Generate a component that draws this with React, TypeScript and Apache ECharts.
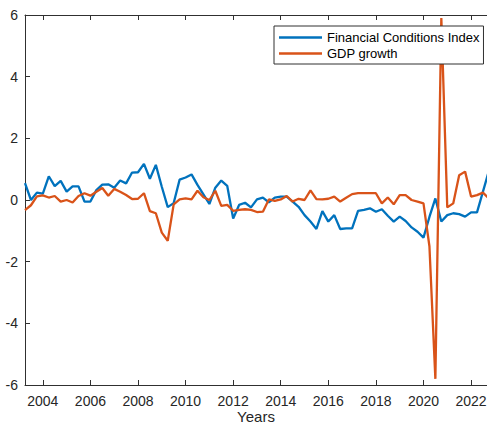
import React, { useEffect, useRef } from "react";
import * as echarts from "echarts";

// Quarterly observations, first quarter ending 2003.25
const firstQuarter = 2003.25;
const quarterStep = 0.25;

const fciValues = [
  0.55, 0.0, 0.24, 0.21,
  0.77, 0.45, 0.62, 0.27,
  0.44, 0.44, -0.05, -0.05,
  0.32, 0.5, 0.51, 0.4,
  0.63, 0.54, 0.89, 0.9,
  1.17, 0.69, 1.14, 0.43,
  -0.23, -0.1, 0.66, 0.73,
  0.83, 0.49, 0.18, -0.13,
  0.4, 0.63, 0.46, -0.6,
  -0.16, -0.09, -0.24, 0.02,
  0.08, -0.08, 0.08, 0.11,
  0.11, -0.05, -0.22, -0.49,
  -0.7, -0.94, -0.36, -0.7,
  -0.49, -0.94, -0.92, -0.92,
  -0.35, -0.32, -0.27, -0.38,
  -0.3, -0.51, -0.7, -0.54,
  -0.68, -0.89, -1.03, -1.22,
  -0.55, 0.05, -0.7, -0.49,
  -0.43, -0.46, -0.54, -0.4,
  -0.4, 0.27, 0.95,
];

const gdpValues = [
  -0.33, -0.17, 0.12, 0.15,
  0.08, 0.13, -0.05, 0.0,
  -0.08, 0.13, 0.22, 0.14,
  0.27, 0.39, 0.14, 0.36,
  0.27, 0.16, 0.03, 0.04,
  0.22, -0.36, -0.43, -1.06,
  -1.32, -0.14, 0.02, 0.05,
  0.02, 0.3, 0.09, 0.0,
  0.3, -0.19, -0.16, -0.35,
  -0.32, -0.3, -0.32, -0.39,
  -0.38, 0.02, -0.03, 0.02,
  0.13, -0.05, 0.04, 0.0,
  0.31, 0.03, 0.02, 0.04,
  0.11, -0.05, 0.07, 0.19,
  0.22, 0.22, 0.22, 0.22,
  -0.11, 0.08, -0.14, 0.16,
  0.16, 0.0, -0.05, -0.11,
  -1.5, -5.8, 5.9, -0.24,
  -0.11, 0.8, 0.92, 0.11,
  0.16, 0.24, 0.05,
];

const yearTicks = [2004, 2006, 2008, 2010, 2012, 2014, 2016, 2018, 2020, 2022];
const seriesNames = ["Financial Conditions Index", "GDP growth"];
const seriesColors = ["#0072BD", "#D95319"];

const axisColor = "#303030";
const textColor = "#262626";
const fontFamily = "Arial, 'Liberation Sans', Helvetica, sans-serif";

const toPairs = (values: number[]) =>
  values.map((v, i) => [firstQuarter + i * quarterStep, v]);

export default function App() {
  const ref = useRef<HTMLDivElement | null>(null);

  useEffect(() => {
    if (!ref.current) return;
    const chart = echarts.init(ref.current, undefined, { renderer: "svg" });

    const xMin = 2003.25;
    const xMax = 2022.67;

    const tickStyle = {
      show: true,
      inside: true,
      length: 5,
      lineStyle: { color: axisColor, width: 1 },
    };

    const lineAxis = {
      show: true,
      onZero: false,
      lineStyle: { color: axisColor, width: 1 },
    };

    chart.setOption({
      animation: false,
      backgroundColor: "#ffffff",
      grid: {
        left: 25,
        top: 15,
        right: 0,
        bottom: 42,
        containLabel: false,
        outerBoundsMode: "none",
      },
      legend: {
        orient: "vertical",
        left: 274,
        top: 26,
        padding: [5, 4, 4, 5],
        itemGap: 3,
        itemWidth: 43,
        itemHeight: 2.3,
        icon: "rect",
        backgroundColor: "#ffffff",
        borderColor: axisColor,
        borderWidth: 1,
        textStyle: { fontSize: 13, color: "#000000", fontFamily },
        data: seriesNames,
      },
      xAxis: [
        {
          type: "value",
          position: "bottom",
          min: xMin,
          max: xMax,
          name: "Years",
          nameLocation: "middle",
          nameGap: 24,
          nameMoveOverlap: false,
          nameTextStyle: { fontSize: 15, color: textColor, fontFamily },
          axisLine: lineAxis,
          axisTick: { ...tickStyle, customValues: yearTicks },
          axisLabel: {
            customValues: yearTicks,
            fontSize: 14,
            color: textColor,
            fontFamily,
            margin: 9,
            formatter: (v: number) => String(v),
          },
          splitLine: { show: false },
        },
        {
          type: "value",
          position: "top",
          min: xMin,
          max: xMax,
          axisLine: lineAxis,
          axisTick: { ...tickStyle, customValues: yearTicks },
          axisLabel: { show: false },
          splitLine: { show: false },
        },
      ],
      yAxis: {
        type: "value",
        min: -6,
        max: 6,
        interval: 2,
        axisLine: lineAxis,
        axisTick: tickStyle,
        axisLabel: { fontSize: 14, color: textColor, fontFamily, margin: 7 },
        splitLine: { show: false },
      },
      series: [
        {
          name: seriesNames[0],
          type: "line",
          data: toPairs(fciValues),
          showSymbol: false,
          symbol: "none",
          clip: true,
          lineStyle: { color: seriesColors[0], width: 2.3 },
          itemStyle: { color: seriesColors[0] },
        },
        {
          name: seriesNames[1],
          type: "line",
          data: toPairs(gdpValues),
          showSymbol: false,
          symbol: "none",
          clip: true,
          lineStyle: { color: seriesColors[1], width: 2.3 },
          itemStyle: { color: seriesColors[1] },
        },
      ],
    });

    return () => chart.dispose();
  }, []);

  return (
    <div
      ref={ref}
      style={{ position: "fixed", left: 0, top: 0, width: 487, height: 427 }}
    />
  );
}
